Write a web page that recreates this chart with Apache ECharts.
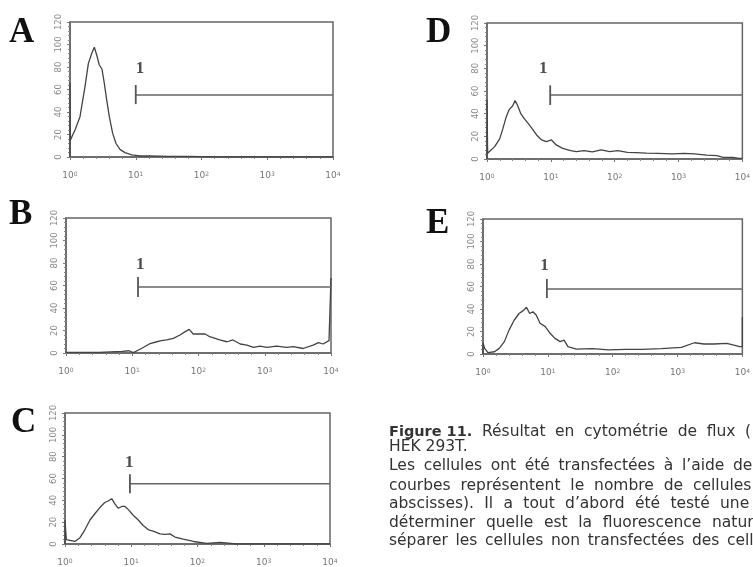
<!DOCTYPE html>
<html><head><meta charset="utf-8">
<script src="https://cdn.jsdelivr.net/npm/echarts@6/dist/echarts.min.js"></script>
<style>html,body{margin:0;padding:0;background:#fff}#c{width:753px;height:567px}</style>
</head><body><div id="c"></div>
<script>
// Panel data: x in decades (log10 of fluorescence), y = cell count
const decA = [0,0,0.005,0.026,0.076,0.152,0.228,0.279,0.33,0.37,0.406,0.446,0.487,0.522,0.558,0.598,0.649,0.7,0.76,0.836,0.94,1.0,1.065,1.2,1.5,1.8,2.0,2.3,3,4];
const valA = [0,66,15,16.6,24,35.8,62.5,83,92,97.5,90.7,81.8,78,65.5,50.7,35.8,21,12,6.8,3.9,1.8,1.5,0.9,1,0.6,0.5,0.3,0,0,0];

const decB = [0,0.5,0.85,0.95,1.016,1.14,1.27,1.37,1.44,1.52,1.62,1.72,1.8,1.86,1.92,2.02,2.1,2.17,2.25,2.32,2.43,2.52,2.63,2.73,2.83,2.93,3.03,3.18,3.33,3.43,3.58,3.73,3.81,3.88,3.97,4,4];
const valB = [0.5,0.5,1.5,2,0.3,4,8.4,10,11,11.6,13,16,19,21,16.9,16.9,16.9,14.5,13,11.6,10,11.6,8,7,5,6.2,5,6.2,5,5.6,4,7,9.2,8,11,12,66.7];

const decC = [0,0,0.02,0.05,0.15,0.226,0.3,0.377,0.45,0.53,0.6,0.65,0.705,0.755,0.805,0.856,0.906,0.956,1.03,1.106,1.18,1.26,1.33,1.434,1.51,1.585,1.66,1.785,1.94,2.14,2.34,2.59,3,4];
const valC = [0,22,4,2.9,2.3,5.8,13,22,27.7,33.6,38,39.4,41.5,36.5,32.7,34.4,34.4,31.5,26.3,22,17,13,11.7,9.3,8.8,9.3,6.4,4.4,2.3,0.6,1.5,0,0,0];

const decD = [0,0,0.01,0.02,0.12,0.2,0.25,0.3,0.35,0.4,0.44,0.476,0.527,0.578,0.644,0.704,0.78,0.857,0.93,1.01,1.085,1.186,1.31,1.4,1.52,1.65,1.79,1.92,2.05,2.2,2.33,2.5,2.68,2.9,3.09,3.25,3.44,3.6,3.7,3.85,3.95,4];
const valD = [0,52,5,6.5,10.9,18,27,37,43.8,46.8,51.5,47.6,40.3,36,31.5,27,21,16.8,15.3,16.8,12.4,9.4,7.3,6.5,7.3,6.2,8,6.5,7.3,5.8,5.6,5.2,5,4.6,5,4.5,3.5,3,1.5,1.5,0.6,0.5];

const decE = [0,0,0.025,0.076,0.177,0.25,0.33,0.4,0.48,0.556,0.63,0.67,0.72,0.77,0.82,0.88,0.96,1.035,1.11,1.19,1.25,1.31,1.44,1.69,1.94,2.2,2.45,2.75,3.06,3.26,3.41,3.56,3.76,3.96,4,4];
const valE = [0,10,5,1.2,2,5,11,21,30,36,39,41.5,36,37.6,34.7,27.3,24.3,18.4,13.9,11,12.4,6.5,4.4,4.7,3.6,4.1,4.1,4.7,5.9,10,8.9,8.9,9.5,6.5,6.5,32.9];

// Gate "1" per panel (A,B,C,D,E)
const panelNames = ['A','B','C','D','E'];
const gateX    = [1.0, 1.087, 0.98, 0.99, 0.985];
const gateY    = [55.1, 58.7, 55.2, 56.5, 57.8];
const gateLow  = [47, 49.8, 46.4, 47.6, 49.8];
const gateHigh = [64, 67.6, 64, 65, 66.7];
const gateLabelX = [1.065, 1.12, 0.97, 0.88, 0.95];
const gateLabelY = [79, 79, 75, 80, 79];
const gateLabel = '1';

const yTicks = {min: 0, max: 120, interval: 20};
const xTicks = {min: 0, max: 4, interval: 1};

// Caption text (words of each line)
const captionTitle = 'Figure 11.';
const captionLines = [
  'Résultat en cytométrie de flux (',
  'HEK 293T.',
  'Les cellules ont été transfectées à l’aide de',
  'courbes représentent le nombre de cellules',
  'abscisses). Il a tout d’abord été testé une',
  'déterminer quelle est la fluorescence naturelle',
  'séparer les cellules non transfectées des cellules'
];

// ---- layout (positions / styles) ----
const decs = [decA, decB, decC, decD, decE];
const vals = [valA, valB, valC, valD, valE];
const grids = [
  {left: 70, top: 22, width: 263, height: 135},
  {left: 66, top: 218, width: 265, height: 135},
  {left: 65, top: 413, width: 265, height: 137},
  {left: 487, top: 23, width: 263, height: 136},
  {left: 483, top: 219, width: 264, height: 135}
];
const letterPos = [[9,15],[9,197],[11,405],[426,15],[426,206]];
const capFont = '15.5px "DejaVu Sans"';
const capX = 389;
const lineStart = [482, 389, 389, 389, 389, 389, 389];
const lineTop = [423.5, 438.5, 458, 477.5, 496, 515, 533];
// x where the last word of each line starts (justified spacing); null = natural spacing
const lastWordX = [745, null, 733, 693, 720, 712, 727];

const ctx = document.createElement('canvas').getContext('2d');
ctx.font = capFont;
const spaceW = ctx.measureText(' ').width;

const graphics = panelNames.map((n, i) => ({
  type: 'text', x: letterPos[i][0], y: letterPos[i][1],
  style: {text: n, font: 'bold 35px "Liberation Serif"', fill: '#111', textVerticalAlign: 'top'}
}));
graphics.push({
  type: 'text', x: capX, y: lineTop[0] + 1,
  style: {text: captionTitle, font: 'bold 14.5px "DejaVu Sans"', fill: '#333', textVerticalAlign: 'top'}
});
captionLines.forEach((line, k) => {
  const words = line.split(' ');
  const widths = words.map(w => ctx.measureText(w).width);
  let gap = spaceW;
  if (lastWordX[k] !== null && words.length > 1) {
    const before = widths.slice(0, -1).reduce((a, b) => a + b, 0);
    gap = (lastWordX[k] - lineStart[k] - before) / (words.length - 1);
  }
  let x = lineStart[k];
  words.forEach((w, j) => {
    graphics.push({type: 'text', x: x, y: lineTop[k],
      style: {text: w, font: capFont, fill: '#333', textVerticalAlign: 'top'}});
    x += widths[j] + gap;
  });
});

const xAxes = [], yAxes = [], series = [];
grids.forEach((g, i) => {
  xAxes.push({
    gridIndex: i, type: 'value', min: xTicks.min, max: xTicks.max, interval: xTicks.interval,
    axisLine: {show: true, lineStyle: {color: '#666', width: 1.5}},
    axisTick: {show: true, length: 3, lineStyle: {color: '#777'}},
    minorTick: {show: true, splitNumber: 5, length: 2, lineStyle: {color: '#888'}},
    splitLine: {show: false},
    axisLabel: {
      margin: 14, color: '#777', fontSize: 9, fontFamily: 'DejaVu Sans',
      formatter: v => '10{s|' + v + '}',
      rich: {s: {fontSize: 6, verticalAlign: 'top', color: '#777', fontFamily: 'DejaVu Sans'}}
    }
  });
  yAxes.push({
    gridIndex: i, type: 'value', min: yTicks.min, max: yTicks.max, interval: yTicks.interval,
    axisLine: {show: true, lineStyle: {color: '#666', width: 1.5}},
    axisTick: {show: true, length: 3, lineStyle: {color: '#777'}},
    minorTick: {show: true, splitNumber: 5, length: 2, lineStyle: {color: '#888'}},
    splitLine: {show: false},
    axisLabel: {rotate: 90, margin: 7, color: '#888', fontSize: 8.5, fontFamily: 'DejaVu Sans'}
  });
  const pts = decs[i].map((d, k) => [d, vals[i][k]]);
  series.push({
    type: 'line', xAxisIndex: i, yAxisIndex: i, data: pts, symbol: 'none',
    lineStyle: {color: '#444', width: 1.3}, silent: true, animation: false
  });
  series.push({
    type: 'line', xAxisIndex: i, yAxisIndex: i, symbol: 'none',
    data: [[gateX[i], gateY[i]], [xTicks.max, gateY[i]]],
    lineStyle: {color: '#666', width: 1.5}, silent: true, animation: false
  });
  series.push({
    type: 'line', xAxisIndex: i, yAxisIndex: i, symbol: 'none',
    data: [[gateX[i], gateLow[i]], [gateX[i], gateHigh[i]]],
    lineStyle: {color: '#555', width: 1.8}, silent: true, animation: false
  });
  series.push({
    type: 'scatter', xAxisIndex: i, yAxisIndex: i, symbolSize: 0,
    data: [[gateLabelX[i], gateLabelY[i]]],
    label: {show: true, position: 'inside', formatter: gateLabel, color: '#222',
            fontSize: 17, fontWeight: 'bold', fontFamily: 'Liberation Serif'},
    silent: true, animation: false
  });
});

const chart = echarts.init(document.getElementById('c'), null, {renderer: 'canvas'});
chart.setOption({
  backgroundColor: '#fff',
  animation: false,
  grid: grids.map(g => Object.assign({show: true, borderColor: '#666', borderWidth: 1.5, backgroundColor: 'transparent'}, g)),
  xAxis: xAxes,
  yAxis: yAxes,
  series: series,
  graphic: graphics
});
</script></body></html>
